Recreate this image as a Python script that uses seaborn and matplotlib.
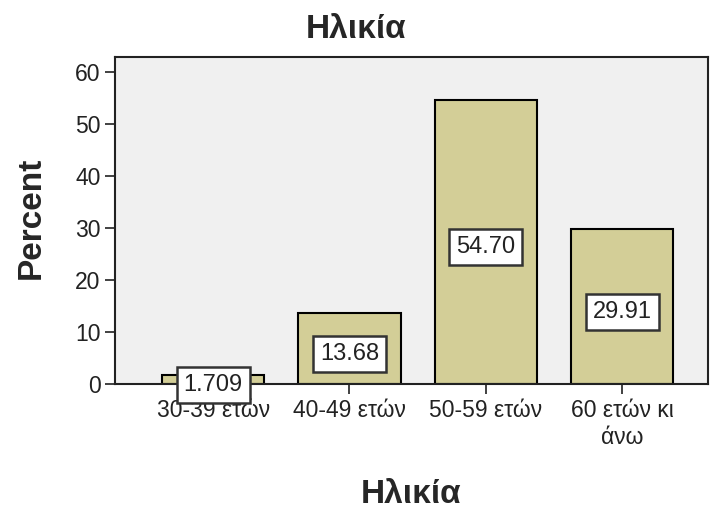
import matplotlib
matplotlib.use("Agg")
import matplotlib.pyplot as plt
import seaborn as sns
import pandas as pd

# ── Datos ────────────────────────────────────────────────────
categorias = ["30-39 ετών", "40-49 ετών", "50-59 ετών", "60 ετών κι\nάνω"]
porcentajes = [1.709, 13.68, 54.70, 29.91]
etiquetas = ["1.709", "13.68", "54.70", "29.91"]
titulo = "Ηλικία"
eje_x = "Ηλικία"
eje_y = "Percent"

df = pd.DataFrame({"edad": categorias, "pct": porcentajes})

# ── Estilo ───────────────────────────────────────────────────
sns.set_theme(style="ticks")
plt.rcParams["font.family"] = ["Liberation Sans", "DejaVu Sans"]

fig = plt.figure(figsize=(7.12, 5.11), dpi=100)
ax = fig.add_axes([115 / 712, 1 - 384 / 511, 593 / 712, 327 / 511])
ax.set_facecolor("#F0F0F0")

sns.barplot(data=df, x="edad", y="pct", order=categorias, color="#D3CE97",
            saturation=1, width=0.75, edgecolor="black", linewidth=1.5, ax=ax)

# etiquetas de valor dentro de cada barra
for i, (v, txt) in enumerate(zip(porcentajes, etiquetas)):
    ax.annotate(txt, xy=(i, v / 2), xytext=(0, -4), textcoords="offset points",
                ha="center", va="center", fontsize=17, color="#222222",
                bbox=dict(boxstyle="square,pad=0.3", fc="white", ec="#333333", lw=1.8))

ax.set_xlim(-0.72, 3.63)
ax.set_ylim(0, 62.9)
ax.set_yticks([0, 10, 20, 30, 40, 50, 60])
ax.tick_params(axis="both", labelsize=16.5, length=7, width=1.3, color="#333333",
               labelcolor="#222222")
ax.tick_params(axis="x", pad=4)
for s in ax.spines.values():
    s.set_color("#222222")
    s.set_linewidth(1.5)

ax.set_xlabel(eje_x, fontsize=24, fontweight="bold")
ax.xaxis.set_label_coords(0.5, -0.339)
ax.xaxis.label.set_va("center")
ax.set_ylabel(eje_y, fontsize=24, fontweight="bold")
ax.yaxis.set_label_coords(-0.142, 0.508)
ax.yaxis.label.set_va("center")

fig.suptitle(titulo, x=0.5, y=1 - 30 / 511, va="center", fontsize=24, fontweight="bold")

plt.savefig("out.png", dpi=100)
